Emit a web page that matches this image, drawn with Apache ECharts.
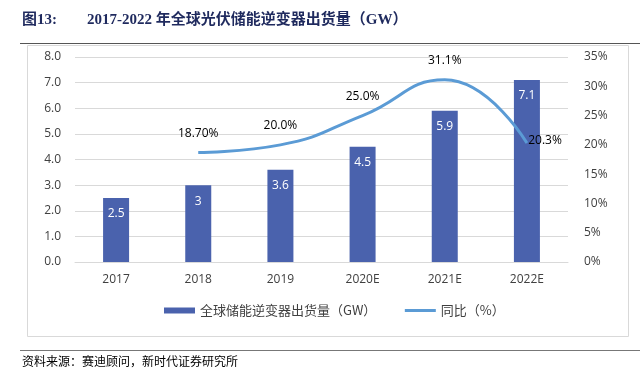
<!DOCTYPE html>
<html><head><meta charset="utf-8">
<script src="https://cdn.jsdelivr.net/npm/echarts@6/dist/echarts.min.js"></script>
<style>html,body{margin:0;padding:0;background:#fff}#c{width:641px;height:385px}</style>
</head><body><div id="c"></div>
<script>
const categories = ['2017','2018','2019','2020E','2021E','2022E'];
const shipments = [2.5, 3, 3.6, 4.5, 5.9, 7.1];
const shipmentLabels = ['2.5','3','3.6','4.5','5.9','7.1'];
const yoy = [null, 18.7, 20.0, 25.0, 31.1, 20.3];
const yoyLabels = ['', '18.70%', '20.0%', '25.0%', '31.1%', '20.3%'];
const leftTicks = [0,1,2,3,4,5,6,7,8];
const rightTicks = [0,5,10,15,20,25,30,35];

const chart = echarts.init(document.getElementById('c'));
const axisFont = {fontFamily:'Open Sans, sans-serif', fontSize:12, color:'#404040'};
const lineData = yoy.map((v,i)=> i===5 ? {value:v, label:{position:'right', distance:1, offset:[0,-3]}} : v);
chart.setOption({
  animation:false,
  graphic:[
    {type:'text', left:22, top:13, style:{text:'图13:', font:'bold 15px "Liberation Serif","Noto Sans CJK SC"', fill:'#1F2A5E'}},
    {type:'text', left:87, top:13, style:{text:'2017-2022 年全球光伏储能逆变器出货量（GW）', font:'bold 15px "Liberation Serif","Noto Sans CJK SC"', fill:'#1F2A5E'}},
    {type:'line', shape:{x1:20,y1:43.5,x2:640,y2:43.5}, style:{stroke:'#555',lineWidth:1}},
    {type:'rect', shape:{x:27.5,y:45.5,width:601,height:291}, style:{fill:'none',stroke:'#D9D9D9',lineWidth:1}},
    {type:'line', shape:{x1:20,y1:350.5,x2:640,y2:350.5}, style:{stroke:'#777',lineWidth:1}},
    {type:'text', left:22, top:355, style:{text:'资料来源：赛迪顾问，新时代证券研究所', font:'12px "Noto Sans CJK SC"', fill:'#000'}}
  ],
  grid:{left:75, right:73, top:57, bottom:123},
  legend:{
    bottom:63, left:159, itemGap:27,
    textStyle:{fontFamily:'Noto Sans CJK SC', fontSize:13, color:'#404040'},
    data:[
      {name:'全球储能逆变器出货量（GW）', icon:'rect', itemStyle:{color:'#4A62AD', opacity:1}},
      {name:'同比（%）', itemStyle:{opacity:0}, lineStyle:{color:'#5B9BD5', width:3, opacity:1}}
    ],
    itemWidth:31, itemHeight:6
  },
  xAxis:{type:'category', data:categories,
    axisLine:{lineStyle:{color:'#D9D9D9'}}, axisTick:{show:false},
    axisLabel:Object.assign({margin:12}, axisFont)},
  yAxis:[
    {type:'value', min:0, max:8, interval:1,
      axisLabel:Object.assign({formatter:v=>v.toFixed(1), margin:14}, axisFont),
      splitLine:{lineStyle:{color:'#D9D9D9'}}, axisLine:{show:false}, axisTick:{show:false}},
    {type:'value', min:0, max:35, interval:5,
      axisLabel:Object.assign({formatter:v=>v+'%', margin:16}, axisFont),
      splitLine:{show:false}, axisLine:{show:false}, axisTick:{show:false}}
  ],
  series:[
    {name:'全球储能逆变器出货量（GW）', type:'bar', data:shipments, barWidth:26,
      itemStyle:{color:'#4A62AD'},
      label:{show:true, position:'insideTop', distance:10, formatter:p=>shipmentLabels[p.dataIndex],
        color:'#fff', fontFamily:'Open Sans, sans-serif', fontSize:12}},
    {name:'同比（%）', type:'line', yAxisIndex:1, data:lineData, smooth:0.5, showSymbol:true, symbol:'circle', symbolSize:0.5,
      lineStyle:{color:'#5B9BD5', width:3}, itemStyle:{color:'#5B9BD5'},
      label:{show:true, position:'top', distance:13, formatter:p=>yoyLabels[p.dataIndex],
        color:'#000', fontFamily:'Open Sans, sans-serif', fontSize:12}
    }
  ]
});
</script></body></html>
